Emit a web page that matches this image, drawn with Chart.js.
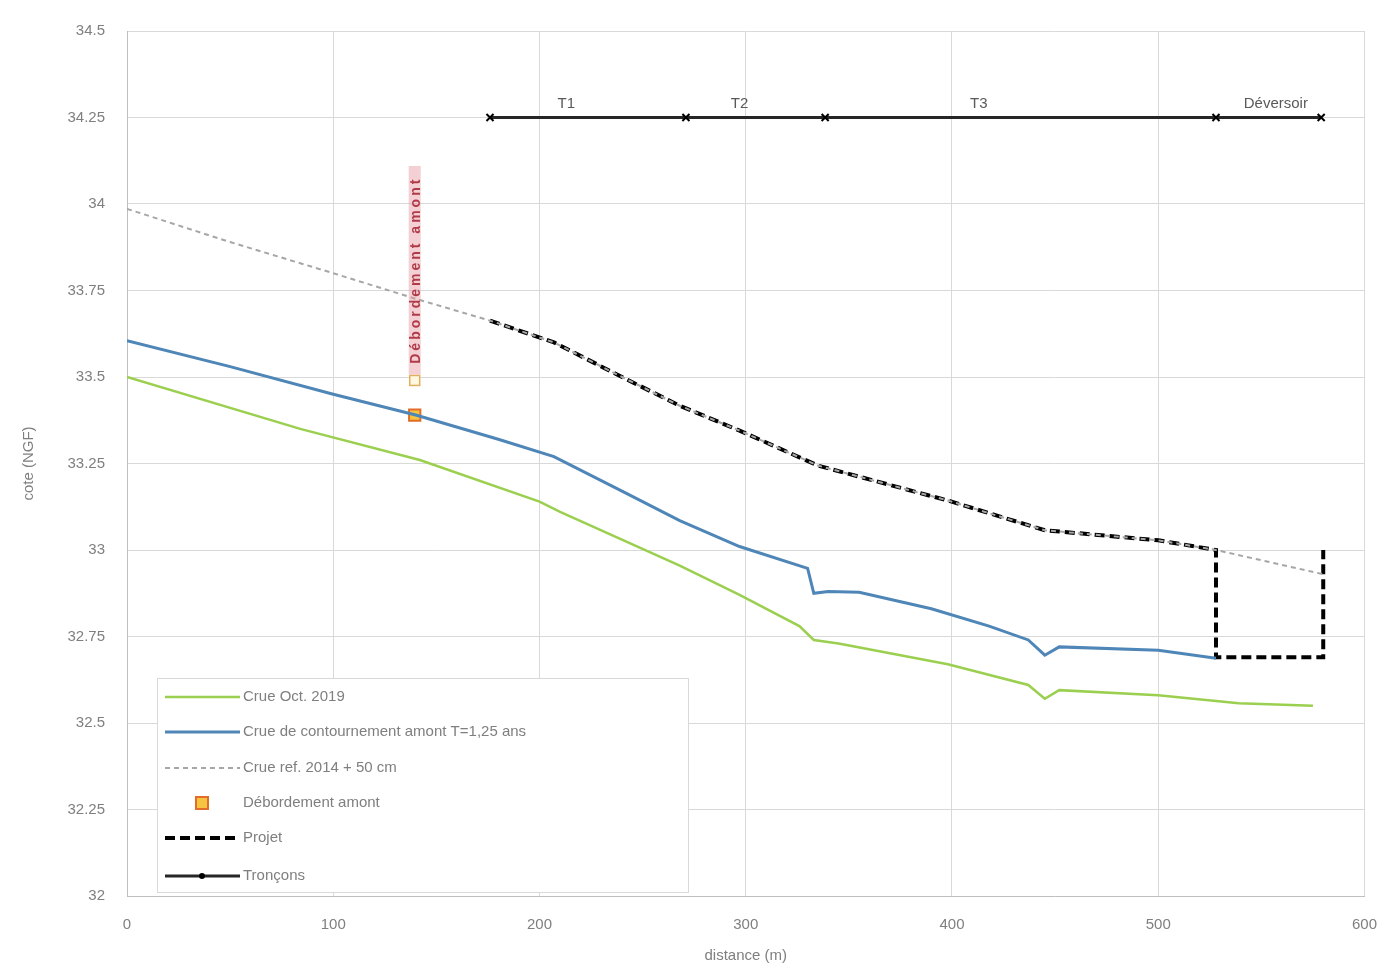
<!DOCTYPE html>
<html><head><meta charset="utf-8">
<script src="https://cdn.jsdelivr.net/npm/chart.js@4.4.1/dist/chart.umd.min.js"></script>
<style>html,body{margin:0;padding:0;background:#fff}#wrap{width:1397px;height:967px}</style>
</head><body><div id="wrap"><canvas id="c" width="1397" height="967"></canvas></div>
<script>
const yTicks = [32, 32.25, 32.5, 32.75, 33, 33.25, 33.5, 33.75, 34, 34.25, 34.5];
const xTicks = [0, 100, 200, 300, 400, 500, 600];

const distOct = [0, 84, 142, 200, 210, 268, 297, 326, 333, 345, 398, 437, 445, 452, 500, 539, 575];
const coteOct = [33.50, 33.35, 33.26, 33.14, 33.11, 32.955, 32.87, 32.78, 32.74, 32.73, 32.67, 32.61, 32.57, 32.595, 32.58, 32.557, 32.55];

const distCont = [0, 50, 100, 140, 180, 207, 240, 268, 297, 330, 333, 340, 355, 390, 418, 437, 445, 452, 500, 528];
const coteCont = [33.605, 33.53, 33.45, 33.39, 33.32, 33.27, 33.17, 33.085, 33.01, 32.947, 32.875, 32.88, 32.878, 32.83, 32.78, 32.74, 32.696, 32.72, 32.71, 32.687];

const distRef = [0, 50, 100, 140, 176, 207, 240, 268, 297, 335, 398, 445, 500, 528, 580];
const coteRef = [33.986, 33.89, 33.80, 33.726, 33.663, 33.6, 33.5, 33.417, 33.345, 33.244, 33.143, 33.057, 33.028, 33.0, 32.93];

const distDeb = [139.5];
const coteDeb = [33.39];

const distProjet = [176, 207, 240, 268, 297, 335, 398, 445, 500, 528, 528, 580, 580];
const coteProjet = [33.663, 33.6, 33.5, 33.417, 33.345, 33.244, 33.143, 33.057, 33.028, 33.0, 32.69, 32.69, 33.0];

const distTroncons = [176, 271, 338.5, 528, 579];
const coteTroncons = [34.25, 34.25, 34.25, 34.25, 34.25];
const tronconLabels = ["T1", "T2", "T3", "Déversoir"];
const tronconLabelX = [213, 297, 413, 557];

const debLabel = "Débordement amont";
const debLine = [33.49, 34.11];

const seriesNames = ["Crue Oct. 2019", "Crue de contournement amont T=1,25 ans", "Crue ref. 2014 + 50 cm", "Débordement amont", "Projet", "Tronçons"];

function pts(xs, ys){ return xs.map((x,i)=>({x:x,y:ys[i]})); }

const overlay = {
  id:'overlay',
  afterDatasetsDraw(chart){
    const ctx = chart.ctx, xs = chart.scales.x, ys = chart.scales.y;
    const px = xs.getPixelForValue(distDeb[0]);
    const y0 = ys.getPixelForValue(debLine[0]), y1 = ys.getPixelForValue(debLine[1]);
    ctx.save();
    ctx.fillStyle = 'rgba(230,150,160,0.45)';
    ctx.fillRect(px-6, y1, 12, y0-y1-6);
    ctx.translate(px, (y0-6+y1)/2);
    ctx.rotate(-Math.PI/2);
    ctx.fillStyle = '#b03a48';
    ctx.font = 'bold 14px "Liberation Sans", Arial, sans-serif';
    try { ctx.letterSpacing = '3px'; } catch(e) {}
    ctx.textAlign='center'; ctx.textBaseline='middle';
    ctx.fillText(debLabel, 0, 1);
    ctx.restore();
    ctx.save();
    ctx.fillStyle='#fff8e0'; ctx.strokeStyle='#e0b060'; ctx.lineWidth=1.5;
    ctx.fillRect(px-5, y0-5, 10, 10); ctx.strokeRect(px-5, y0-5, 10, 10);
    ctx.restore();
    ctx.save();
    ctx.fillStyle='#595959';
    ctx.font = '15px "Liberation Sans", Arial, sans-serif';
    ctx.textAlign='center'; ctx.textBaseline='bottom';
    const ly = ys.getPixelForValue(34.25) - 6;
    tronconLabels.forEach((t,i)=>ctx.fillText(t, xs.getPixelForValue(tronconLabelX[i]), ly));
    ctx.restore();
  },
  afterDraw(chart){
    const ctx = chart.ctx;
    ctx.save();
    const bx=157, by=678, bw=531, bh=214;
    ctx.fillStyle='#fff'; ctx.fillRect(bx,by,bw,bh);
    ctx.strokeStyle='#d9d9d9'; ctx.lineWidth=1; ctx.strokeRect(bx+0.5,by+0.5,bw,bh);
    const rows=[697,732,768,803,838,876];
    ctx.font='15px "Liberation Sans", Arial, sans-serif';
    ctx.textBaseline='middle';
    chart.data.datasets.forEach((d,i)=>{
      const y=rows[i];
      ctx.save();
      if(i===3){
        ctx.fillStyle=d.pointBackgroundColor; ctx.strokeStyle=d.pointBorderColor; ctx.lineWidth=2;
        ctx.fillRect(196,y-6,12,12); ctx.strokeRect(196,y-6,12,12);
      } else {
        ctx.strokeStyle=d.borderColor; ctx.lineWidth=d.borderWidth;
        ctx.setLineDash(d.borderDash||[]);
        ctx.beginPath(); ctx.moveTo(165,y); ctx.lineTo(240,y); ctx.stroke();
        if(i===5){ ctx.setLineDash([]); ctx.fillStyle='#000'; ctx.beginPath(); ctx.arc(202,y,3,0,Math.PI*2); ctx.fill(); }
      }
      ctx.restore();
      ctx.fillStyle='#7f7f7f';
      ctx.fillText(d.label, 243, y);
    });
    ctx.restore();
  }
};

new Chart(document.getElementById('c'), {
  type:'scatter',
  data:{datasets:[
    {label:seriesNames[0], data:pts(distOct,coteOct), showLine:true, borderColor:'#9bcf4f', borderWidth:2.5, pointRadius:0, tension:0},
    {label:seriesNames[1], data:pts(distCont,coteCont), showLine:true, borderColor:'#4f86b8', borderWidth:3, pointRadius:0, tension:0},
    {label:seriesNames[2], data:pts(distRef,coteRef), showLine:true, borderColor:'#a6a6a6', borderWidth:2, borderDash:[5,4], pointRadius:0, tension:0},
    {label:seriesNames[3], data:pts(distDeb,coteDeb), showLine:false, pointStyle:'rect', pointRadius:8, pointBackgroundColor:'#f5c542', pointBorderColor:'#e46c2a', pointBorderWidth:2, borderColor:'#e46c2a'},
    {label:seriesNames[4], data:pts(distProjet,coteProjet), showLine:true, borderColor:'#000', borderWidth:4, borderDash:[10,5], pointRadius:0, tension:0},
    {label:seriesNames[5], data:pts(distTroncons,coteTroncons), showLine:true, borderColor:'#262626', borderWidth:3, pointStyle:'crossRot', pointRadius:5, pointBorderWidth:2, pointBorderColor:'#000', tension:0},
  ]},
  options:{
    responsive:false, animation:false,
    layout:{padding:{top:30,right:31,left:20,bottom:0}},
    plugins:{legend:{display:false}, tooltip:{enabled:false}},
    scales:{
      x:{type:'linear', min:0, max:600,
         afterBuildTicks(s){ s.ticks = xTicks.map(v=>({value:v})); },
         afterFit(s){ s.height = 71; },
         grid:{color:'#d9d9d9', drawTicks:false},
         border:{color:'#bfbfbf'},
         ticks:{color:'#7f7f7f', font:{size:15, family:'"Liberation Sans", Arial, sans-serif'}, padding:20, maxRotation:0},
         title:{display:true, text:'distance (m)', color:'#7f7f7f', font:{size:15, family:'"Liberation Sans", Arial, sans-serif'}, padding:{top:0,bottom:2}}},
      y:{type:'linear', min:32, max:34.5,
         afterBuildTicks(s){ s.ticks = yTicks.map(v=>({value:v})); },
         afterFit(s){ s.width = 107; },
         grid:{color:'#d9d9d9', drawTicks:false},
         border:{color:'#bfbfbf'},
         ticks:{color:'#7f7f7f', font:{size:15, family:'"Liberation Sans", Arial, sans-serif'}, padding:22, callback:v=>String(v)},
         title:{display:true, text:'cote (NGF)', color:'#7f7f7f', font:{size:15, family:'"Liberation Sans", Arial, sans-serif'}, padding:{top:0,bottom:0}}}
    }
  },
  plugins:[overlay]
});
</script></body></html>
